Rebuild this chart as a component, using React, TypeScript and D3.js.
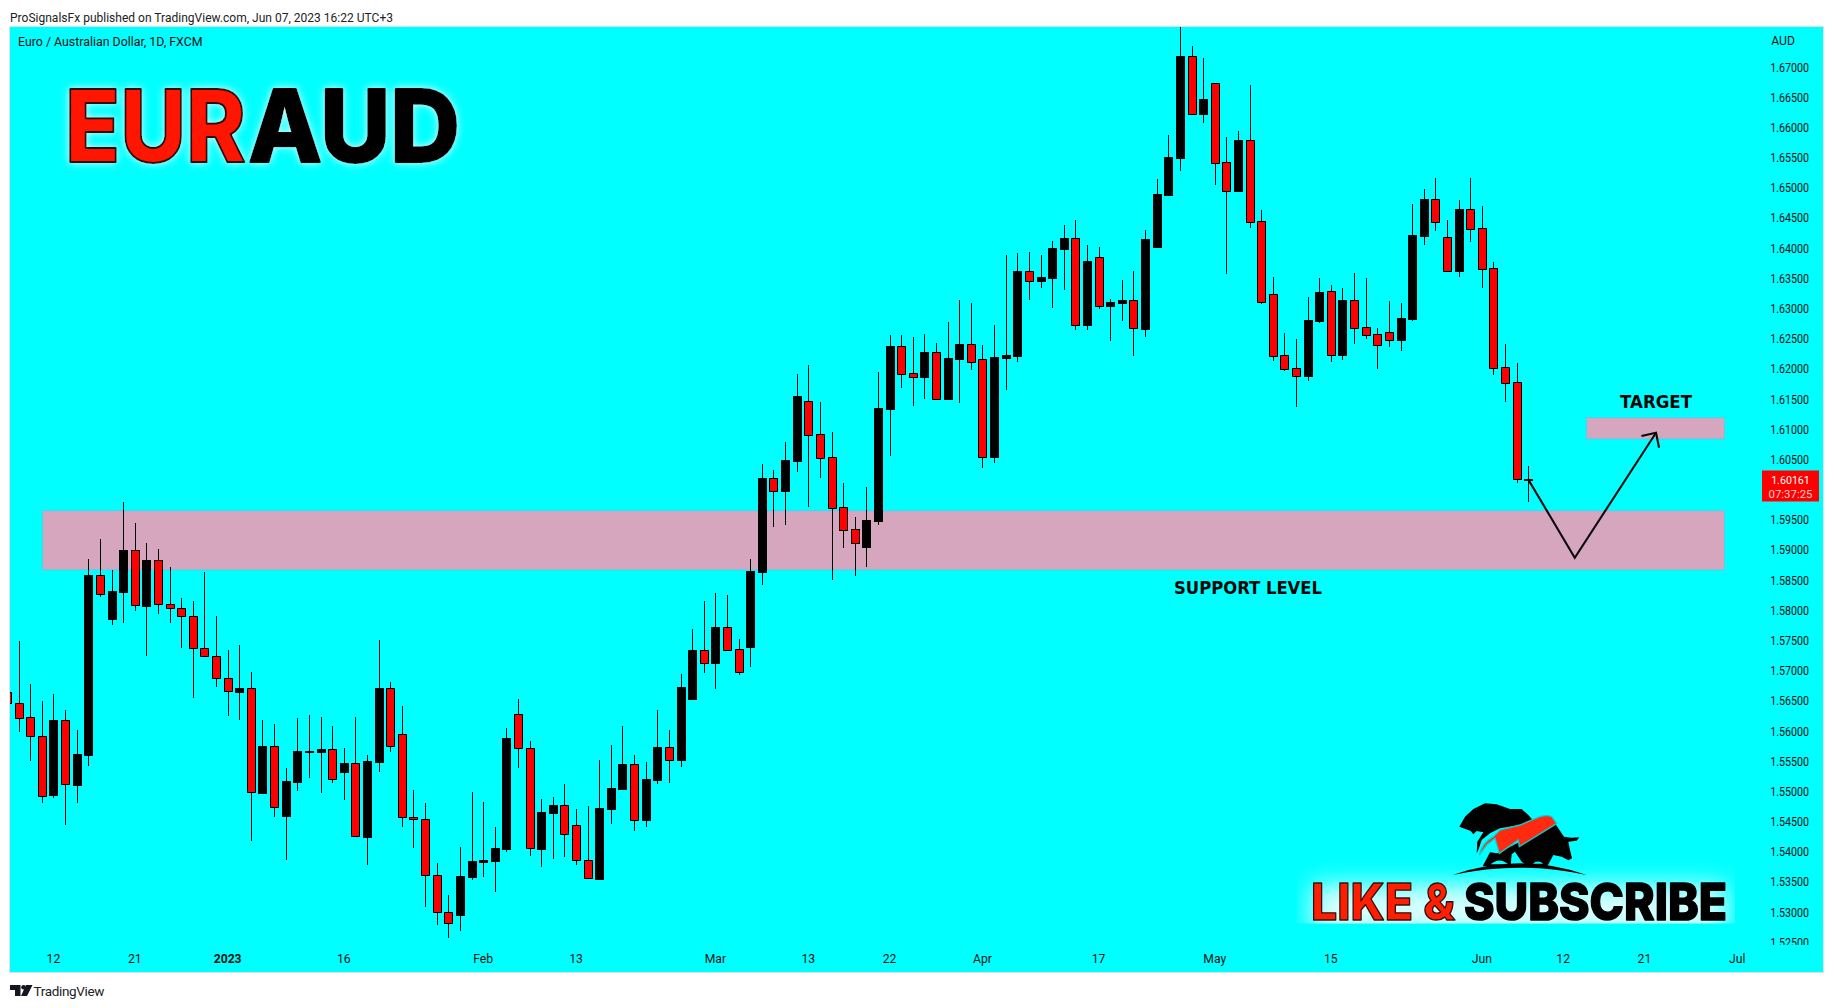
import { scaleLinear, range } from "d3";

// prices, oldest first. first bar (Dec 6 2022) is mostly clipped by the left edge
const opens = [
  1.56635,
  1.56453, 1.56221, 1.55906, 1.5494, 1.56171, 1.55105, 1.55602, 1.58573, 1.57855, 1.58302,
  1.58987, 1.58071, 1.58821, 1.58093, 1.58026, 1.57894, 1.57364, 1.57231, 1.56867, 1.56646,
  1.56701, 1.54973, 1.5574, 1.54592, 1.55155, 1.55652, 1.55652, 1.55691, 1.55321, 1.55459,
  1.54244, 1.55486, 1.56701, 1.55939, 1.54564, 1.54531, 1.53603, 1.5299, 1.52952, 1.53581,
  1.5383, 1.53846, 1.54045, 1.5627, 1.55707, 1.54045, 1.54641, 1.54763, 1.54432, 1.53852,
  1.53548, 1.54708, 1.55039, 1.55442, 1.54525, 1.55188, 1.55724, 1.55519, 1.56524, 1.57331,
  1.57126, 1.57712, 1.57347, 1.57391, 1.58635, 1.60181, 1.59977, 1.60474, 1.61457, 1.6091,
  1.60529, 1.59701, 1.59336, 1.59049, 1.5948, 1.61335, 1.62368, 1.61921, 1.61865, 1.62268,
  1.61501, 1.62164, 1.62401, 1.62152, 1.6054, 1.6218, 1.62213, 1.6361, 1.63456, 1.63505,
  1.63986, 1.64157, 1.62727, 1.63842, 1.63042, 1.63091, 1.6313, 1.62661, 1.64013, 1.64875,
  1.65493, 1.67172, 1.66222, 1.66724, 1.65416, 1.64946, 1.6578, 1.64438, 1.63229, 1.62219,
  1.62003, 1.61882, 1.62787, 1.63279, 1.6223, 1.6313, 1.62682, 1.62566, 1.626, 1.62478,
  1.6282, 1.64195, 1.64803, 1.64173, 1.63616, 1.64637, 1.64322, 1.6366, 1.6202, 1.61771,
  1.60164,
];
const closes = [
  1.56453,
  1.56215, 1.55906, 1.54912, 1.56176, 1.55111, 1.55608, 1.58579, 1.58258, 1.58313, 1.58993,
  1.58076, 1.58827, 1.58093, 1.58026, 1.57894, 1.57364, 1.57231, 1.56867, 1.56651, 1.56701,
  1.54978, 1.5574, 1.5473, 1.5516, 1.55657, 1.55657, 1.55691, 1.55194, 1.55459, 1.54249,
  1.55492, 1.56701, 1.5574, 1.54564, 1.54531, 1.53603, 1.5299, 1.52808, 1.53587, 1.53835,
  1.53857, 1.54051, 1.55873, 1.55707, 1.54051, 1.54647, 1.54763, 1.54282, 1.53852, 1.53554,
  1.54713, 1.55044, 1.55447, 1.54525, 1.55193, 1.55729, 1.55519, 1.56723, 1.57336, 1.57126,
  1.57712, 1.57342, 1.56977, 1.58646, 1.60187, 1.59977, 1.60479, 1.61545, 1.60905, 1.60523,
  1.59695, 1.59331, 1.59115, 1.59485, 1.61341, 1.62368, 1.61915, 1.61865, 1.62268, 1.61501,
  1.62169, 1.62401, 1.62114, 1.6054, 1.62186, 1.62224, 1.6361, 1.63456, 1.63511, 1.63991,
  1.64157, 1.62727, 1.63776, 1.63042, 1.63097, 1.63135, 1.62666, 1.6414, 1.64891, 1.65504,
  1.67177, 1.66222, 1.66465, 1.6541, 1.64946, 1.6578, 1.64433, 1.63108, 1.62213, 1.61998,
  1.61882, 1.62798, 1.63262, 1.6223, 1.6313, 1.62677, 1.62561, 1.62395, 1.62478, 1.62831,
  1.64206, 1.64803, 1.64433, 1.63621, 1.64637, 1.64317, 1.63654, 1.62014, 1.61766, 1.60164,
  1.60161,
];
const highs = [
  1.568,
  1.57485, 1.56773, 1.56491, 1.56607, 1.56342, 1.56011, 1.58844, 1.59175, 1.58661, 1.59782,
  1.5944, 1.59109, 1.59009, 1.58711, 1.58198, 1.58148, 1.58628, 1.57899, 1.57336, 1.57419,
  1.56972, 1.56176, 1.5611, 1.55381, 1.5621, 1.56259, 1.56226, 1.56077, 1.55713, 1.56226,
  1.55591, 1.57502, 1.56806, 1.56408, 1.55017, 1.54802, 1.53808, 1.53277, 1.54073, 1.54984,
  1.54818, 1.54404, 1.56044, 1.56524, 1.55829, 1.54868, 1.54901, 1.55116, 1.54702, 1.54752,
  1.55514, 1.55762, 1.56077, 1.55597, 1.55481, 1.56342, 1.56011, 1.56938, 1.57684, 1.58148,
  1.5828, 1.58247, 1.57518, 1.58845, 1.60413, 1.60319, 1.60783, 1.6191, 1.62059, 1.61446,
  1.60949, 1.60104, 1.59541, 1.60038, 1.61943, 1.62556, 1.62556, 1.62522, 1.62572, 1.62423,
  1.62771, 1.63135, 1.63086, 1.6239, 1.62721, 1.63881, 1.63914, 1.63931, 1.63881, 1.64113,
  1.64378, 1.64461, 1.64047, 1.64013, 1.63152, 1.63467, 1.63616, 1.64295, 1.6514, 1.65869,
  1.67658, 1.67343, 1.67144, 1.66724, 1.65835, 1.65935, 1.66697, 1.64626, 1.63516, 1.62589,
  1.62489, 1.63185, 1.635, 1.63384, 1.63334, 1.63582, 1.635, 1.62671, 1.63119, 1.63086,
  1.64726, 1.64974, 1.65156, 1.6446, 1.64792, 1.65156, 1.64692, 1.63765, 1.62406, 1.62092,
  1.60385,
];
const lows = [
  1.563,
  1.55983, 1.55503, 1.54807, 1.5489, 1.54437, 1.54807, 1.5542, 1.5822, 1.57756, 1.57789,
  1.57988, 1.57242, 1.57938, 1.57789, 1.57375, 1.56546, 1.57231, 1.56729, 1.56248, 1.56182,
  1.54178, 1.54973, 1.54575, 1.53863, 1.55006, 1.55221, 1.54973, 1.55138, 1.54857, 1.54249,
  1.5378, 1.55321, 1.55652, 1.54409, 1.54062, 1.53084, 1.52786, 1.52571, 1.52687, 1.53531,
  1.53581, 1.53333, 1.53995, 1.55387, 1.53929, 1.53747, 1.53879, 1.53912, 1.5378, 1.53554,
  1.53548, 1.54459, 1.55039, 1.54343, 1.54409, 1.55122, 1.55138, 1.55403, 1.56524, 1.56961,
  1.56695, 1.57342, 1.56922, 1.5706, 1.58414, 1.5938, 1.59408, 1.60292, 1.59712, 1.60192,
  1.58502, 1.59033, 1.58569, 1.58718, 1.59408, 1.60557, 1.61683, 1.61385, 1.61495, 1.61501,
  1.61501, 1.61435, 1.61976, 1.60358, 1.60441, 1.6165, 1.62114, 1.63141, 1.6334, 1.63008,
  1.63307, 1.62644, 1.62644, 1.62992, 1.62462, 1.62793, 1.62213, 1.62528, 1.63997, 1.64858,
  1.65272, 1.66222, 1.66073, 1.65046, 1.63571, 1.64946, 1.64328, 1.63069, 1.6213, 1.61965,
  1.61368, 1.61799, 1.62754, 1.62114, 1.62147, 1.62412, 1.62495, 1.61998, 1.62362, 1.62296,
  1.62787, 1.64046, 1.64278, 1.63621, 1.63516, 1.64096, 1.63334, 1.61898, 1.61451, 1.60108,
  1.59793,
];

const timeTicks = [4, 11, 19, 29, 41, 49, 61, 69, 76, 84, 94, 104, 114, 127, 134, 141, 149];
const timeLabels = ["12", "21", "2023", "16", "Feb", "13", "Mar", "13", "22", "Apr", "17", "May", "15", "Jun", "12", "21", "Jul"];
// 1.60000 sits under the last price label, so it is left out
const priceTicks = range(0, 30).map((i) => 1.67 - i * 0.005).filter((p) => Math.abs(p - 1.6) > 0.001);

const lastPrice = 1.60161;
const countdown = "07:37:25";

// drawn zones and the projected path, in bar index / price
const supportZone = { from: 3.04, to: 147.9, top: 1.59644, bottom: 1.58662 };
const targetZone = { from: 136, to: 147.9, top: 1.61185, bottom: 1.60832 };
const pathBars = [131, 135, 142];
const pathPrices = [1.60161, 1.58865, 1.60936];

const FONT = "Roboto, 'Liberation Sans', sans-serif";
const HEAVY = "Inter, 'Open Sans', sans-serif";
const plot = { left: 10, right: 1823, top: 27, bottom: 972 };

export default function App() {
  const x = scaleLinear().domain([0, 131]).range([7, 1528.3]);
  const y = scaleLinear().domain([1.67, 1.53]).range([66.7, 911.7]);

  const bodyW = 8;
  const zoneRect = (z: typeof supportZone) => ({
    x: x(z.from),
    y: y(z.top),
    width: x(z.to) - x(z.from),
    height: y(z.bottom) - y(z.top),
  });

  const pts = pathBars.map((b, i) => [x(b), y(pathPrices[i])]);
  const tip = pts[2];

  return (
    <svg
      width={1834}
      height={1008}
      viewBox="0 0 1834 1008"
      style={{ position: "fixed", left: 0, top: 0, background: "#fff" }}
    >
      <defs>
        <clipPath id="plotClip">
          <rect x={plot.left} y={plot.top} width={plot.right - plot.left} height={plot.bottom - plot.top} />
        </clipPath>
        <clipPath id="glowClip">
          <rect x={1297} y={850} width={438} height={73.5} />
        </clipPath>
        <filter id="titleGlow" x="-10%" y="-30%" width="120%" height="160%">
          <feDropShadow dx="0" dy="0" stdDeviation="4.5" floodColor="#ffffff" floodOpacity="0.85" />
        </filter>
        <filter id="blur12" x="-20%" y="-60%" width="140%" height="220%">
          <feGaussianBlur stdDeviation="12" />
        </filter>
      </defs>

      {/* header */}
      <text x={10} y={21.5} fontFamily={FONT} fontSize={12.4} textLength={383} lengthAdjust="spacingAndGlyphs" fill="#222">
        ProSignalsFx published on TradingView.com, Jun 07, 2023 16:22 UTC+3
      </text>

      {/* pane */}
      <rect
        x={plot.left - 0.5}
        y={plot.top - 0.5}
        width={plot.right - plot.left + 1}
        height={plot.bottom - plot.top + 1}
        fill="#00ffff"
        stroke="#d9e3e6"
      />

      <g clipPath="url(#plotClip)">
        {/* zones */}
        {[supportZone, targetZone].map((z, i) => (
          <rect key={i} {...zoneRect(z)} fill="#d5a6bd" stroke="#4dd2ee" strokeWidth={1} />
        ))}

        {/* candles */}
        <g shapeRendering="crispEdges">
          {opens.map((o, i) => {
            const c = closes[i];
            const top = Math.round(y(Math.max(o, c))) + 0.5;
            const bottom = Math.round(y(Math.min(o, c))) + 0.5;
            const cx = Math.round(x(i)) + 0.5;
            return (
              <g key={i}>
                <line x1={cx} x2={cx} y1={y(highs[i])} y2={y(lows[i])} stroke="#000" strokeWidth={1} />
                <rect
                  x={cx - bodyW / 2}
                  y={top}
                  width={bodyW}
                  height={Math.max(bottom - top, 0.5)}
                  fill={c >= o ? "#000" : "#ff0000"}
                  stroke="#000"
                  strokeWidth={1}
                />
              </g>
            );
          })}
        </g>

        {/* projected path */}
        <g fill="none" stroke="#0a0a0a" strokeWidth={2.1}>
          <polyline points={pts.map((p) => p.join(",")).join(" ")} />
          <polyline points={`${tip[0] - 14.6},${tip[1] + 3.3} ${tip[0]},${tip[1]} ${tip[0] + 3},${tip[1] + 15}`} />
        </g>
      </g>

      {/* zone captions */}
      <text x={1248} y={594} textAnchor="middle" fontFamily="'DejaVu Sans', sans-serif" fontWeight={700} fontSize={18.5} textLength={148} lengthAdjust="spacingAndGlyphs" fill="#050505">
        SUPPORT LEVEL
      </text>
      <text x={1656} y={407.5} textAnchor="middle" fontFamily="'DejaVu Sans', sans-serif" fontWeight={700} fontSize={18.5} textLength={72} lengthAdjust="spacingAndGlyphs" fill="#050505">
        TARGET
      </text>

      {/* title */}
      <g filter="url(#titleGlow)" fontFamily={HEAVY} fontWeight={800} fontSize={100} strokeLinejoin="round">
        <text x={65} y={162} textLength={181} lengthAdjust="spacingAndGlyphs" fill="#ff1200" stroke="#2a0a0a" strokeWidth={2}>
          EUR
        </text>
        <text x={248} y={162} textLength={212} lengthAdjust="spacingAndGlyphs" fill="#000" stroke="#000" strokeWidth={2}>
          AUD
        </text>
      </g>

      {/* legend */}
      <text x={18} y={46} fontFamily={FONT} fontSize={12} textLength={184.5} lengthAdjust="spacingAndGlyphs" fill="#111">
        Euro / Australian Dollar, 1D, FXCM
      </text>

      {/* like & subscribe badge */}
      <g clipPath="url(#glowClip)">
        <rect x={1312} y={885} width={414} height={50} fill="#ffffff" opacity={0.85} filter="url(#blur12)" />
      </g>
      <g transform="translate(1440,795) scale(0.3333)">
        <path
          d="M58 95 L75 65 L100 42 L135 25 L170 28 L210 42 L245 42 L265 60 L278 75 L240 90 L180 100 L150 115 L125 135 L115 165 L110 175 L112 140 L130 112 L110 108 L100 118 L92 108 L78 103 Z"
          fill="#000"
        />
        <path
          d="M345 85 L372 125 L395 128 L418 127 L410 137 L385 140 L390 165 L396 190 L385 196 L365 185 L340 180 L322 214 L128 214 L150 172 L172 175 L240 140 Z"
          fill="#000"
        />
        <path d="M152 208 Q178 185 205 208 Z M212 212 L215 178 L225 170 L245 200 L262 212 Z M278 206 Q293 193 310 206 Z" fill="#00ffff" />
        <path
          d="M118 180 Q125 145 160 125 L180 105 L240 90 L300 65 Q325 58 336 66 L350 85 L340 92 L238 155 L235 135 L178 175 L165 130 L140 150 Z"
          fill="#ff2a10"
          stroke="#19c8cc"
          strokeWidth={4}
        />
        <path d="M38 240 Q240 170 440 240 Q240 196 38 240 Z" fill="#000" />
      </g>
      <g fontFamily={HEAVY} fontWeight={800} fontSize={51} strokeLinejoin="round">
        <text x={1311} y={920} textLength={144} lengthAdjust="spacingAndGlyphs" fill="#ff1e00" stroke="#30100c" strokeWidth={1.4}>
          LIKE &amp;
        </text>
        <text x={1464} y={920} textLength={263} lengthAdjust="spacingAndGlyphs" fill="#000" stroke="#000" strokeWidth={1.5}>
          SUBSCRIBE
        </text>
      </g>

      {/* price axis */}
      <g fontFamily={FONT} fontSize={12.2} fill="#111" textAnchor="end">
        <text x={1795} y={45}>AUD</text>
        {priceTicks.map((p) => (
          <text key={p} x={1809} y={y(p) + 4.9} textLength={38.7} lengthAdjust="spacingAndGlyphs">
            {p.toFixed(5)}
          </text>
        ))}
      </g>
      <rect x={plot.left} y={945} width={plot.right - plot.left} height={plot.bottom - 945} fill="#00ffff" />

      {/* time axis */}
      <g fontFamily={FONT} fontSize={12.2} fill="#111" textAnchor="middle">
        {timeTicks.map((t, i) => (
          <text key={i} x={x(t)} y={963.2} fontWeight={timeLabels[i] === "2023" ? 700 : 400}>
            {timeLabels[i]}
          </text>
        ))}
      </g>

      {/* last price label */}
      <rect x={1762} y={y(lastPrice) - 9} width={57} height={31} fill="#ff0000" />
      <text x={1790.5} y={y(lastPrice) + 4.7} textAnchor="middle" fontFamily={FONT} fontSize={11.6} textLength={38.7} lengthAdjust="spacingAndGlyphs" fill="#fff">
        {lastPrice.toFixed(5)}
      </text>
      <text x={1790.5} y={y(lastPrice) + 18.8} textAnchor="middle" fontFamily={FONT} fontSize={11.4} textLength={44} lengthAdjust="spacingAndGlyphs" fill="#ffd0d0">
        {countdown}
      </text>

      {/* footer */}
      <path d="M10 985 H20.5 V996 H15 V990 H10 Z M26 985 H32.5 L27 996 H21 Z" fill="#131722" />
      <circle cx={23.5} cy={987.3} r={2.3} fill="#131722" />
      <text x={33.5} y={995.5} fontFamily={FONT} fontSize={13.5} textLength={71} fill="#222">
        TradingView
      </text>
    </svg>
  );
}
